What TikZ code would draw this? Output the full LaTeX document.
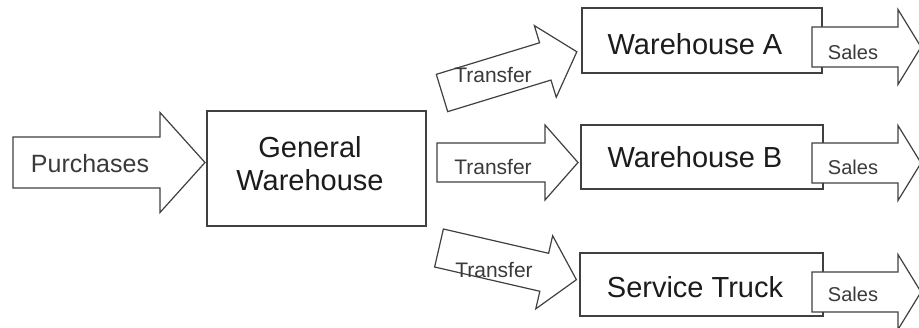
\documentclass[tikz,border=0pt]{standalone}
\usepackage{fontspec}
\setmainfont{Liberation Sans}
\definecolor{edge}{HTML}{404040}
\definecolor{ink}{HTML}{1C1C1C}
\definecolor{softink}{HTML}{3A3A3A}

% block arrow: #1 name, #2 origin (middle of the tail), #3 angle,
% #4 length, #5 half shaft width, #6 half head width, #7 head length
\newcommand\blockarrow[7]{%
  \begin{scope}[shift={#2}, rotate=#3]
    \draw[arrowline] (0,-#5) -- ({#4-#7},-#5) -- ({#4-#7},-#6) -- (#4,0)
      -- ({#4-#7},#6) -- ({#4-#7},#5) -- (0,#5) -- cycle;
    \coordinate (#1) at (0,0);
  \end{scope}}

\tikzset{
  boxline/.style={draw=edge, line width=1.7pt, fill=white},
  arrowline/.style={draw=edge, line width=1.2pt, fill=white, line join=miter},
  boxtext/.style={text=ink, font=\fontsize{29}{33}\selectfont, inner sep=0pt},
  arrowtext/.style={text=softink, inner sep=0pt},
}

\begin{document}
\begin{tikzpicture}[x=1pt, y=-1pt]
  \useasboundingbox (0,0) rectangle (919,328);
  \clip (0,0) rectangle (919,328);

  % warehouses
  \draw[boxline] (207,111) rectangle (426,226);
  \node[boxtext, align=center] (gw) at (310,164) {General\\Warehouse};

  \draw[boxline] (582,8) rectangle (822,73);
  \node[boxtext, anchor=base] (wa) at (695,55) {Warehouse A};

  \draw[boxline] (581,125) rectangle (823,189);
  \node[boxtext, anchor=base] (wb) at (695,168) {Warehouse B};

  \draw[boxline] (580,253) rectangle (823,316);
  \node[boxtext, anchor=base] (st) at (695,298) {Service Truck};

  % incoming purchases
  \blockarrow{purch}{(13,162.5)}{0}{192}{25.5}{50}{45}
  \node[arrowtext, anchor=base, font=\fontsize{25}{30}\selectfont] (tp) at (90,173) {Purchases};

  % transfers out of the general warehouse
  \blockarrow{tra}{(442,93)}{17}{141}{19.5}{37.5}{33}
  \node[arrowtext, anchor=base, font=\fontsize{21}{25}\selectfont] (tta) at (493,83) {Transfer};

  \blockarrow{trb}{(437,162.5)}{0}{141}{19.5}{37.5}{33}
  \node[arrowtext, anchor=base, font=\fontsize{21}{25}\selectfont] (ttb) at (493,175) {Transfer};

  \blockarrow{trc}{(439,248)}{-13}{141}{19.5}{37.5}{33}
  \node[arrowtext, anchor=base, font=\fontsize{21}{25}\selectfont] (ttc) at (494,278) {Transfer};

  % sales leaving each location
  \blockarrow{sa}{(812,47)}{0}{109}{20}{37.5}{23}
  \node[arrowtext, anchor=base, font=\fontsize{20}{24}\selectfont] (tsa) at (853,60) {Sales};

  \blockarrow{sb}{(812,163)}{0}{109}{20}{37.5}{23}
  \node[arrowtext, anchor=base, font=\fontsize{20}{24}\selectfont] (tsb) at (853,175) {Sales};

  \blockarrow{sc}{(812,292)}{0}{109}{20}{37.5}{23}
  \node[arrowtext, anchor=base, font=\fontsize{20}{24}\selectfont] (tsc) at (853,302) {Sales};
\end{tikzpicture}
\end{document}
